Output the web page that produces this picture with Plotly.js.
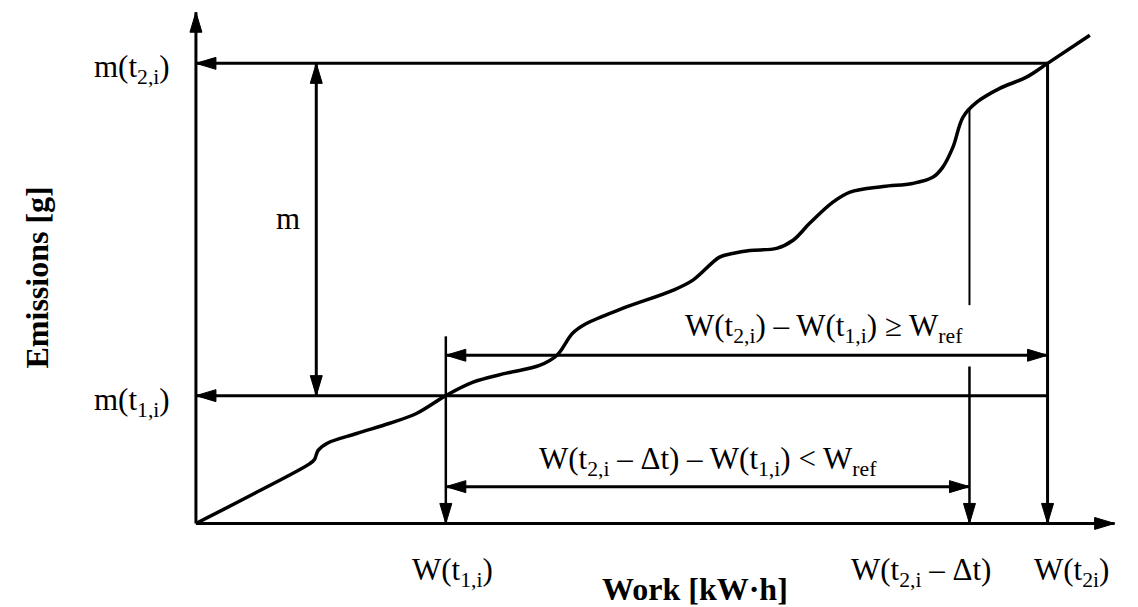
<!DOCTYPE html>
<html><head><meta charset="utf-8">
<script src="https://cdn.plot.ly/plotly-3.0.1.min.js"></script>
<style>html,body{margin:0;padding:0;background:#fff}#chart{width:1138px;height:607px}</style>
</head><body><div id="chart"></div>
<script>
// ---- data (abstract units: work 0..100, emissions 0..100) ----
const workValues = [0, 6.4, 12.4, 12.9, 13.3, 14.3, 17.5, 21.1, 24.0, 27.2, 30.1, 33.8, 37.4, 39.3, 41.0, 42.5, 46.5, 51.9, 54.1, 57.0, 58.4, 60.3, 63.2, 65.0, 66.8, 69.3, 71.2, 74.8, 78.0, 80.2, 81.3, 82.4, 83.5, 85.0, 87.5, 90.4, 92.7, 97.3];
const emissionValues = [0, 5.9, 11.7, 12.5, 14.3, 15.7, 17.6, 19.6, 21.5, 25.0, 27.6, 29.4, 30.9, 32.9, 37.2, 39.1, 42.1, 45.6, 47.6, 52.1, 52.8, 53.4, 53.8, 55.4, 58.7, 62.8, 64.8, 65.9, 66.5, 67.7, 69.7, 73.6, 79.5, 82.4, 85.1, 87.3, 90.0, 95.5];

const workMarks = [27.2, 84.2, 92.7];            // W(t1,i), W(t2,i-Δt), W(t2i)
const workLabels = ['W(t<sub>1,i</sub>)', 'W(t<sub>2,i</sub> – Δt)', 'W(t<sub>2i</sub>)'];
const emissionMarks = [25, 90];                  // m(t1,i), m(t2,i)
const emissionLabels = ['m(t<sub>1,i</sub>)', 'm(t<sub>2,i</sub>)'];
const axisMax = [100, 100];                      // work, emissions axis ends
const dimLevels = [32.9, 7.2];                   // upper / lower work-difference arrows
const mDimWork = 13.1;                           // position of the "m" dimension arrow
const delta2Top = 81.0;                          // curve level at W(t2,i-Δt)
const w1Top = 36.6;
const dimTexts = ['W(t<sub>2,i</sub>) – W(t<sub>1,i</sub>) ≥ W<sub>ref</sub>', 'W(t<sub>2,i</sub> – Δt) – W(t<sub>1,i</sub>) < W<sub>ref</sub>'];

// ---- drawing helpers ----
const [W1, W2d, W2] = workMarks;
const [m1, m2] = emissionMarks;
const ink = '#000';
const serif = 'Liberation Serif, Times New Roman, serif';

function seg(x0, y0, x1, y1, w) {
  return {type:'line', xref:'x', yref:'y', x0:x0, y0:y0, x1:x1, y1:y1, line:{color:ink, width:w || 3}};
}
const headPaths = {
  up:'M0,0L-6,-20L6,-20Z', down:'M0,0L-6,20L6,20Z',
  left:'M0,0L20,6L20,-6Z', right:'M0,0L-20,6L-20,-6Z'
};
function head(x, y, dir) {
  return {type:'path', xref:'x', yref:'y', xsizemode:'pixel', ysizemode:'pixel',
          xanchor:x, yanchor:y, path:headPaths[dir], fillcolor:ink, line:{color:ink, width:1}};
}

const shapes = [
  seg(0, 0, 0, axisMax[1], 3), head(0, axisMax[1], 'up'),
  seg(0, 0, axisMax[0], 0, 3), head(axisMax[0], 0, 'right'),
  seg(0, m2, W2, m2, 3), head(0, m2, 'left'),
  seg(0, m1, W2, m1, 3), head(0, m1, 'left'),
  seg(mDimWork, m1, mDimWork, m2, 3), head(mDimWork, m2, 'up'), head(mDimWork, m1, 'down'),
  seg(W1, 0, W1, w1Top, 2.5), head(W1, 0, 'down'),
  seg(W2, 0, W2, m2, 3), head(W2, 0, 'down'),
  seg(W2d, delta2Top, W2d, 42.7, 2), seg(W2d, 30.7, W2d, 0, 2.5), head(W2d, 0, 'down'),
  seg(W1, dimLevels[0], W2, dimLevels[0], 3), head(W1, dimLevels[0], 'left'), head(W2, dimLevels[0], 'right'),
  seg(W1, dimLevels[1], W2d, dimLevels[1], 3), head(W1, dimLevels[1], 'left'), head(W2d, dimLevels[1], 'right')
];

const lblFont = {family: serif, size: 31, color: ink};
const ttlFont = {family: serif, size: 32, color: ink, weight: 'bold'};
const annotations = [];
// emission labels (left of the axis)
emissionMarks.forEach((v, i) => annotations.push({xref:'x', yref:'y', x:0, y:v, xanchor:'right', yanchor:'middle',
  xshift:-24, yshift:-6, text:emissionLabels[i], showarrow:false, font:lblFont}));
// work labels (below the axis)
const workShift = [7, -48, 24];
workMarks.forEach((v, i) => annotations.push({xref:'x', yref:'y', x:v, y:0, xanchor:'center', yanchor:'top',
  xshift:workShift[i], yshift:-27, text:workLabels[i], showarrow:false, font:lblFont}));
// dimension texts
annotations.push({xref:'x', yref:'y', x:mDimWork, y:(m1 + m2) / 2, xanchor:'right', yanchor:'middle', xshift:-14, yshift:11,
  text:'m', showarrow:false, font:lblFont});
annotations.push({xref:'x', yref:'y', x:68.4, y:dimLevels[0], xanchor:'center', yanchor:'middle', yshift:27,
  text:dimTexts[0], showarrow:false, font:lblFont});
annotations.push({xref:'x', yref:'y', x:(W1 + W2d) / 2, y:dimLevels[1], xanchor:'center', yanchor:'middle', yshift:26,
  text:dimTexts[1], showarrow:false, font:lblFont});
// axis titles
annotations.push({xref:'x', yref:'y', x:54.3, y:0, xanchor:'center', yanchor:'middle', yshift:-66,
  text:'<b>Work [kW·h]</b>', showarrow:false, font:ttlFont});
annotations.push({xref:'x', yref:'y', x:0, y:48.1, xanchor:'center', yanchor:'middle', xshift:-159, textangle:-90,
  text:'<b>Emissions [g]</b>', showarrow:false, font:ttlFont});

const trace = {x: workValues, y: emissionValues, type:'scatter', mode:'lines',
  line:{color:ink, width:3.5, shape:'spline', smoothing:1}, hoverinfo:'skip'};

const layout = {
  width:1138, height:607, margin:{l:150, r:5, t:2, b:58},
  paper_bgcolor:'#fff', plot_bgcolor:'#fff', showlegend:false,
  xaxis:{range:[-5, 102], visible:false, fixedrange:true},
  yaxis:{range:[-5, 102], visible:false, fixedrange:true},
  shapes:shapes, annotations:annotations
};
Plotly.newPlot('chart', [trace], layout, {staticPlot:true, displayModeBar:false});
</script></body></html>
